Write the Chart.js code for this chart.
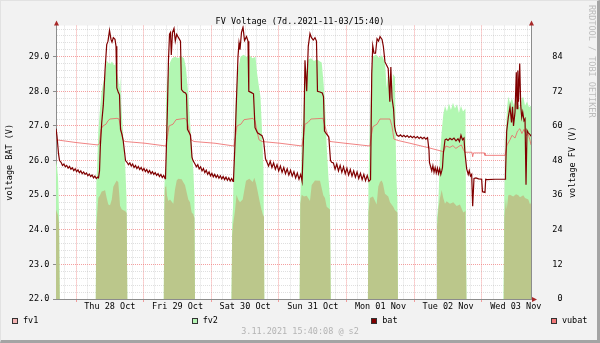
<!DOCTYPE html>
<html>
<head>
<meta charset="utf-8">
<title>FV Voltage</title>
<script src="https://cdn.jsdelivr.net/npm/chart.js@4.4.1/dist/chart.umd.min.js"></script>
<style>
  html, body { margin: 0; padding: 0; background: #f2f2f2; }
  #graph { position: relative; width: 600px; height: 343px; overflow: hidden;
           font-family: 'DejaVu Sans Mono', monospace; font-size: 8.5px; color: #000; }
  #graph canvas { position: absolute; left: 0; top: 0; }
  #frame { position: absolute; left: 0; top: 0; width: 600px; height: 343px; box-sizing: border-box;
           border-style: solid; border-width: 1px 3px 3px 1px;
           border-color: #e2e2e2 #a4a4a4 #a4a4a4 #e2e2e2; pointer-events: none; }
  #legend { position: absolute; left: 12px; top: 316px; width: 575.5px;
            display: flex; justify-content: space-between; }
  .item { display: flex; align-items: center; white-space: nowrap; line-height: 9px; }
  .box { width: 4px; height: 4px; border: 1px solid #333; margin-right: 5px; }
</style>
</head>
<body>
<div id="graph">
  <canvas id="fvChart" width="600" height="343"></canvas>
  <div id="legend"></div>
  <div id="frame"></div>
</div>
<script>
// x values are hours counted from Thu 28 Oct 00:00
const dayLabels = ['Thu 28 Oct', 'Fri 29 Oct', 'Sat 30 Oct', 'Sun 31 Oct', 'Mon 01 Nov', 'Tue 02 Nov', 'Wed 03 Nov'];
const batTicks = [22, 23, 24, 25, 26, 27, 28, 29];
const fvTicks = [0, 12, 24, 36, 48, 60, 72, 84];

// panel power, fv1 (V)
const fv1 = [
  [-7.09, 31], [-6.74, 30], [-6.38, 29], [-6.03, 26], [-5.78, 0],
  [7.02, 0], [7.2, 25], [7.45, 29], [7.91, 35], [8.51, 36], [9.1, 37.3], [9.93, 37.5], [10.29, 37.8], [10.89, 35],
  [11.46, 32.8], [12.06, 32.5], [12.66, 34.4], [13.23, 38.9], [13.83, 40], [14.44, 41.1], [15.0, 40.5], [15.36, 36],
  [15.61, 32.3], [16.21, 31.1], [16.78, 30.8], [17.38, 30.5], [17.98, 29.8], [18.2, 0],
  [31.14, 0], [31.32, 30], [31.57, 38.9], [31.92, 40], [32.27, 36], [32.74, 34], [33.34, 34.5], [34.52, 33],
  [35.11, 38], [35.72, 41.1], [36.28, 41.7], [37.49, 41.5], [38.06, 40.5], [38.66, 39.5], [39.83, 34.5],
  [40.43, 33.5], [41.04, 30], [41.6, 29.4], [42.02, 28], [42.2, 0],
  [55.17, 0], [55.39, 22], [55.74, 26], [56.4, 30.5], [56.93, 36.1], [57.57, 34.4], [58.17, 33.5], [59.13, 34.5],
  [60.3, 41], [61.47, 41.7], [62.68, 40.6], [63.25, 42], [63.85, 40], [64.45, 37.3], [65.02, 34.4], [65.62, 31.7],
  [66.22, 29.4], [66.68, 28.5], [66.79, 0],
  [79.35, 0], [79.56, 33], [80.06, 36.1], [80.87, 35.5], [81.83, 35.8], [83.0, 34], [83.6, 39.5], [84.77, 41.1],
  [86.55, 41], [87.72, 36], [88.31, 35], [88.92, 32], [90.09, 31], [90.34, 0],
  [103.55, 0], [103.73, 30], [104.27, 35], [105.34, 35.5], [106.65, 32.8], [107.22, 38.9], [107.82, 40.6],
  [108.42, 41.1], [108.88, 40], [109.6, 36.5], [110.77, 35.5], [111.37, 33.5], [112.54, 32], [113.14, 30.8],
  [114.02, 30], [114.2, 0],
  [127.87, 0], [128.05, 25], [128.52, 31], [129.11, 35], [129.72, 37.8], [130.28, 35], [130.89, 33], [131.47, 33.9],
  [132.66, 33], [133.83, 33.5], [135.03, 32.2], [136.2, 32.8], [137.37, 30], [138.15, 30.5], [138.5, 0],
  [151.75, 0], [151.93, 28], [152.53, 35], [152.78, 31], [153.35, 36], [153.95, 36.1], [155.12, 35.5], [156.08, 36.3],
  [156.9, 36], [157.5, 35.3], [158.66, 36], [159.28, 35], [160.45, 34.5], [161.06, 32.8], [161.41, 33.5]
];

// panel power, fv2 (V)
const fv2 = [
  [-7.09, 48], [-6.74, 46], [-6.38, 42], [-6.03, 30], [-5.78, 0],
  [7.02, 0], [7.2, 40], [7.45, 45], [7.91, 58], [8.51, 66], [9.1, 72], [9.68, 75], [10.29, 78], [10.89, 82.7],
  [11.35, 82], [12.06, 81.5], [12.77, 82.3], [13.48, 81], [14.01, 81.5], [14.44, 79], [15.0, 76], [15.43, 73],
  [15.72, 77], [15.96, 68], [16.21, 64.7], [16.78, 56], [17.38, 48], [17.91, 35], [18.2, 0],
  [31.14, 0], [31.32, 38], [31.57, 45], [31.92, 68], [32.27, 75], [32.8, 79], [33.34, 82], [34.05, 83.5],
  [35.11, 84], [36.18, 83.5], [37.24, 84.2], [38.31, 83.5], [39.02, 80], [39.37, 76], [39.9, 70], [40.43, 62],
  [41.04, 52], [41.6, 45], [42.02, 35], [42.2, 0],
  [55.17, 0], [55.39, 26], [55.7, 32], [56.22, 55], [56.58, 67], [57.29, 78], [57.82, 81], [58.35, 84], [59.42, 84.7],
  [60.48, 84], [61.54, 84.5], [62.61, 83.5], [63.67, 84], [64.27, 78], [64.84, 74], [65.44, 70], [66.04, 57],
  [66.5, 45], [66.79, 0],
  [79.35, 0], [79.56, 35], [80.16, 55], [80.87, 70], [81.58, 78], [82.39, 83], [83.35, 83.5], [84.41, 82.5],
  [85.48, 83], [86.55, 82.3], [87.15, 82], [87.72, 76], [88.31, 68], [88.92, 53], [89.56, 42], [90.09, 35], [90.34, 0],
  [103.55, 0], [103.73, 40], [104.27, 62], [104.8, 78], [105.34, 84], [106.4, 84.8], [107.47, 83.6], [108.53, 84.5],
  [109.6, 82], [110.2, 73], [110.77, 79], [111.37, 76], [111.97, 70], [112.43, 78], [113.14, 77], [113.49, 50],
  [113.74, 40], [114.0, 35], [114.2, 0],
  [127.87, 0], [128.05, 28], [128.52, 33], [129.11, 50], [129.72, 58], [130.28, 64], [130.89, 67], [131.6, 65],
  [132.3, 67.8], [133.0, 65.5], [133.72, 68], [134.43, 66], [135.14, 67.5], [135.85, 64.5], [136.56, 67],
  [137.27, 65], [138.15, 66], [138.5, 0],
  [151.64, 0], [151.93, 35], [152.36, 55], [152.88, 66], [153.35, 70.2], [153.95, 68], [154.66, 69.5], [155.37, 67],
  [156.08, 69.3], [156.79, 67.5], [157.5, 66.3], [158.2, 69.7], [158.66, 70], [159.28, 67], [159.99, 68.5],
  [160.7, 66.5], [161.41, 67]
];

// battery voltage (V)
const bat = [
  [-7.09, 26.92], [-6.74, 26.7], [-6.21, 26.2], [-5.85, 26.0], [-5.3, 25.95], [-4.8, 25.86], [-4.3, 25.9],
  [-3.8, 25.82], [-3.3, 25.86], [-2.8, 25.78], [-2.3, 25.83], [-1.8, 25.75], [-1.3, 25.79], [-0.8, 25.71],
  [-0.3, 25.76], [0.2, 25.68], [0.7, 25.73], [1.2, 25.65], [1.7, 25.7], [2.2, 25.62], [2.7, 25.67], [3.2, 25.6],
  [3.7, 25.64], [4.2, 25.56], [4.7, 25.61], [5.2, 25.54], [5.7, 25.58], [6.2, 25.5], [6.7, 25.55], [7.2, 25.48],
  [7.7, 25.52],
  [7.98, 25.5], [8.34, 25.7], [8.62, 26.4], [9.12, 27.1], [9.68, 27.6], [10.29, 28.6], [10.89, 29.35], [11.35, 29.45],
  [11.88, 29.76], [12.41, 29.5], [12.77, 29.42], [13.23, 29.55], [13.83, 29.5], [14.19, 29.3], [14.47, 28.1],
  [15.0, 27.97], [15.43, 27.9], [15.78, 26.9], [16.32, 26.75], [16.78, 26.55], [17.56, 26.0], [18.09, 25.95],
  [18.6, 25.88], [19.1, 25.93], [19.6, 25.84], [20.1, 25.9], [20.6, 25.8], [21.1, 25.86], [21.6, 25.77],
  [22.1, 25.83], [22.6, 25.74], [23.1, 25.8], [23.6, 25.71], [24.1, 25.77], [24.6, 25.68], [25.1, 25.74],
  [25.6, 25.65], [26.1, 25.71], [26.6, 25.62], [27.1, 25.68], [27.6, 25.6], [28.1, 25.65], [28.6, 25.57],
  [29.1, 25.62], [29.6, 25.54], [30.1, 25.6], [30.6, 25.51], [31.1, 25.57], [31.6, 25.48],
  [31.75, 25.5], [32.1, 26.5], [32.45, 27.6], [32.8, 28.9], [33.17, 29.65], [33.52, 29.7], [33.8, 29.05],
  [34.23, 29.7], [34.76, 29.82], [35.22, 29.45], [35.72, 29.65], [36.35, 29.55], [37.06, 29.45], [37.42, 28.05],
  [38.13, 27.98], [38.84, 27.95], [39.19, 27.9], [39.54, 26.9], [40.08, 26.82], [40.61, 26.73], [41.14, 26.1],
  [41.5, 26.0], [42.2, 25.9],
  [42.7, 25.82], [43.2, 25.88], [43.7, 25.76], [44.2, 25.82], [44.7, 25.7], [45.2, 25.77], [45.7, 25.65],
  [46.2, 25.72], [46.7, 25.6], [47.2, 25.67], [47.7, 25.56], [48.2, 25.63], [48.7, 25.53], [49.2, 25.6],
  [49.7, 25.51], [50.2, 25.58], [50.7, 25.49], [51.2, 25.56], [51.7, 25.47], [52.2, 25.54], [52.7, 25.45],
  [53.2, 25.52], [53.7, 25.43], [54.2, 25.5], [54.7, 25.41], [55.2, 25.48], [55.7, 25.4],
  [55.87, 25.45], [56.4, 26.5], [56.93, 27.8], [57.46, 29.0], [57.82, 29.4], [58.17, 29.2], [58.7, 29.7],
  [59.24, 29.85], [59.77, 29.47], [60.48, 29.58], [61.01, 29.45], [61.29, 28.0], [62.08, 27.97], [62.96, 27.93],
  [63.5, 26.95], [64.38, 26.8], [65.98, 26.72], [66.51, 26.6], [67.22, 26.05], [67.75, 25.95],
  [68.3, 25.84], [68.9, 25.98], [69.5, 25.8], [70.1, 25.93], [70.7, 25.75], [71.3, 25.88], [71.9, 25.7],
  [72.5, 25.84], [73.1, 25.66], [73.7, 25.8], [74.3, 25.62], [74.9, 25.76], [75.5, 25.58], [76.1, 25.72],
  [76.7, 25.55], [77.3, 25.68], [77.9, 25.5], [78.5, 25.64], [79.1, 25.46], [79.7, 25.6], [80.2, 25.4],
  [80.41, 25.4], [80.87, 27.06], [81.22, 28.9], [81.83, 28.0], [82.39, 29.3], [83.0, 29.67], [83.53, 29.55],
  [84.17, 29.48], [84.77, 29.55], [85.3, 29.45], [85.66, 28.0], [86.55, 27.98], [87.36, 27.95], [87.79, 27.85],
  [88.14, 26.85], [89.03, 26.75], [89.67, 26.68], [90.27, 26.0], [90.7, 25.95],
  [91.3, 25.93], [91.9, 25.75], [92.5, 25.9], [93.1, 25.7], [93.7, 25.86], [94.3, 25.66], [94.9, 25.82],
  [95.5, 25.62], [96.1, 25.78], [96.7, 25.58], [97.3, 25.74], [97.9, 25.55], [98.5, 25.7], [99.1, 25.52],
  [99.7, 25.67], [100.3, 25.48], [100.9, 25.63], [101.5, 25.45], [102.1, 25.6], [102.7, 25.42], [103.3, 25.57],
  [103.9, 25.4],
  [104.48, 25.45], [104.91, 28.5], [105.26, 29.32], [105.72, 29.1], [106.25, 29.1], [106.79, 29.52],
  [107.32, 29.45], [107.85, 29.58], [108.56, 29.5], [109.02, 29.3], [109.6, 28.85], [110.75, 28.66],
  [111.32, 27.7], [111.68, 28.7], [112.1, 27.8], [112.63, 27.5], [112.99, 27.0], [113.34, 26.85], [113.87, 26.73],
  [114.5, 26.7], [115.1, 26.74], [115.7, 26.69], [116.3, 26.73], [116.9, 26.68], [117.5, 26.72], [118.1, 26.67],
  [118.7, 26.71], [119.3, 26.66], [119.9, 26.7], [120.5, 26.65], [121.1, 26.69], [121.7, 26.64], [122.3, 26.68],
  [122.9, 26.63], [123.5, 26.67], [124.1, 26.62], [124.7, 26.66], [125.21, 26.3], [125.39, 25.94],
  [125.8, 25.82], [126.2, 25.7], [126.6, 25.85], [127.0, 25.66], [127.4, 25.8], [127.8, 25.64], [128.2, 25.78],
  [128.6, 25.62], [129.0, 25.76], [129.4, 25.6], [129.8, 25.72],
  [130.0, 25.8], [130.3, 26.2], [130.9, 26.6], [131.4, 26.62], [131.95, 26.58], [132.66, 26.64], [133.37, 26.6],
  [134.08, 26.65], [134.79, 26.57], [135.5, 26.63], [136.03, 26.55], [136.56, 26.73], [137.09, 26.6],
  [137.62, 26.65], [137.98, 26.22], [138.58, 25.76], [139.14, 25.6], [139.5, 25.71], [139.93, 25.55],
  [140.36, 25.6], [140.71, 24.68], [141.17, 25.48], [141.88, 25.5], [142.77, 25.47], [143.9, 25.46],
  [144.19, 25.1], [145.08, 25.08], [145.33, 25.46], [145.79, 25.45], [148.63, 25.46], [152.18, 25.46],
  [152.36, 25.6], [152.78, 26.85], [153.35, 27.25], [153.95, 27.55], [154.48, 27.1], [154.84, 27.55],
  [155.19, 27.0], [155.73, 27.4], [156.19, 28.55], [156.44, 27.5], [156.73, 28.6], [156.97, 27.7], [157.4, 28.8],
  [157.75, 27.6], [158.11, 27.25], [158.46, 27.4], [158.92, 27.15], [159.28, 27.2], [159.63, 25.3],
  [159.99, 26.87], [160.45, 26.8], [161.06, 26.75], [161.41, 26.7]
];

// charger reference voltage, vubat (V)
const vubat = [
  [-7.09, 26.6], [0, 26.52], [7.8, 26.45], [8.34, 26.5], [8.87, 26.9], [9.58, 27.0], [10.64, 27.05], [11.35, 27.15],
  [12.06, 27.2], [14.54, 27.22], [15.25, 27.2], [15.96, 26.9], [16.67, 26.6], [17.38, 26.55], [24.47, 26.5],
  [31.92, 26.42], [32.45, 26.7], [32.99, 27.0], [34.41, 27.05], [35.47, 27.18], [38.66, 27.22], [39.37, 27.15],
  [40.08, 26.9], [40.79, 26.6], [41.86, 26.55], [49.3, 26.5], [56.04, 26.42], [56.58, 26.7], [57.1, 27.0],
  [58.5, 27.05], [59.59, 27.18], [62.78, 27.22], [63.5, 27.15], [64.2, 26.85], [64.91, 26.6], [65.98, 26.55],
  [72.36, 26.5], [80.16, 26.42], [80.7, 26.7], [81.22, 27.05], [82.29, 27.1], [83.35, 27.2], [87.6, 27.22],
  [88.31, 27.0], [89.03, 26.8], [90.1, 26.55], [95.42, 26.5], [104.27, 26.42], [104.8, 26.75], [105.34, 26.98],
  [106.76, 27.05], [107.82, 27.2], [111.37, 27.2], [112.07, 27.0], [112.78, 26.62], [114.2, 26.58], [118.46, 26.5],
  [122.0, 26.43], [125.56, 26.36], [129.7, 26.27], [130.27, 26.25], [131.2, 26.42], [132.6, 26.38], [133.7, 26.43],
  [134.76, 26.35], [135.8, 26.41], [136.7, 26.45], [137.4, 26.32], [137.98, 26.24], [140.47, 26.24],
  [140.71, 26.11], [140.99, 26.22], [144.9, 26.22], [145.08, 26.15], [152.18, 26.15], [152.9, 26.45],
  [153.95, 26.6], [154.66, 26.73], [155.73, 26.65], [156.6, 26.85], [157.47, 26.92], [158.18, 26.78],
  [158.9, 26.9], [159.8, 26.72], [160.3, 26.78], [161.0, 26.6], [161.41, 26.45]
];

const mono = "'DejaVu Sans Mono', monospace";
Chart.defaults.font.family = mono;
Chart.defaults.font.size = 8.5;
Chart.defaults.font.lineHeight = 1;
Chart.defaults.color = '#000';

const majorGrid = 'rgba(240,120,120,0.7)';
const minorGrid = 'rgba(150,150,150,0.3)';
const axisColor = '#8c8c8c';
const isMajorV = v => batTicks.some(t => Math.abs(t - v) < 1e-6);

// grey frame background, white canvas, axis arrows and the rotated side texts
const rrdDecor = {
  id: 'rrdDecor',
  beforeDraw(chart) {
    const { ctx, chartArea: a } = chart;
    ctx.save();
    ctx.fillStyle = '#f2f2f2';
    ctx.fillRect(0, 0, chart.width, chart.height);
    ctx.fillStyle = '#ffffff';
    ctx.fillRect(a.left, a.top, a.right - a.left, a.bottom - a.top);
    ctx.restore();
  },
  afterDraw(chart) {
    const { ctx, chartArea: a } = chart;
    ctx.save();
    ctx.fillStyle = '#a82828';
    [a.left, a.right].forEach(x => {
      ctx.beginPath();
      ctx.moveTo(x + 0.5, a.top - 5);
      ctx.lineTo(x + 3, a.top);
      ctx.lineTo(x - 2, a.top);
      ctx.closePath();
      ctx.fill();
    });
    ctx.beginPath();
    ctx.moveTo(a.right + 6, a.bottom + 0.5);
    ctx.lineTo(a.right + 1, a.bottom - 2);
    ctx.lineTo(a.right + 1, a.bottom + 3);
    ctx.closePath();
    ctx.fill();

    ctx.font = '8.5px ' + mono;
    ctx.textBaseline = 'middle';
    ctx.fillStyle = '#000';
    ctx.translate(a.right + 42, (a.top + a.bottom) / 2);
    ctx.rotate(-Math.PI / 2);
    ctx.textAlign = 'center';
    ctx.fillText('voltage FV (V)', 0, 0);
    ctx.setTransform(1, 0, 0, 1, 0, 0);

    ctx.fillStyle = '#bcbcbc';
    ctx.translate(chart.width - 9, 5);
    ctx.rotate(Math.PI / 2);
    ctx.textAlign = 'left';
    ctx.fillText('RRDTOOL / TOBI OETIKER', 0, 0);
    ctx.restore();
  }
};

const chart = new Chart(document.getElementById('fvChart'), {
  type: 'line',
  data: {
    datasets: [
      { label: 'fv1', data: fv1, yAxisID: 'y2', fill: 'origin', backgroundColor: 'rgb(187,199,139)',
        borderColor: 'rgba(0,0,0,0)', borderWidth: 0, pointRadius: 0, order: 3, legendColor: '#f4b4b4' },
      { label: 'fv2', data: fv2, yAxisID: 'y2', fill: 'origin', backgroundColor: 'rgb(178,247,178)',
        borderColor: 'rgba(0,0,0,0)', borderWidth: 0, pointRadius: 0, order: 4, legendColor: '#b4f4b4' },
      { label: 'bat', data: bat, yAxisID: 'y', fill: false, borderColor: '#800000',
        borderWidth: 1.2, pointRadius: 0, order: 1, legendColor: '#800000' },
      { label: 'vubat', data: vubat, yAxisID: 'y', fill: false, borderColor: 'rgba(236,100,100,0.8)',
        borderWidth: 1, pointRadius: 0, order: 2, legendColor: '#f07878' }
    ]
  },
  options: {
    responsive: false,
    animation: false,
    events: [],
    layout: { padding: 0 },
    plugins: {
      legend: { display: false },
      tooltip: { enabled: false },
      title: {
        display: true,
        text: 'FV Voltage (7d..2021-11-03/15:40)',
        padding: { top: 9, bottom: -0.5 },
        font: { size: 8.5, weight: 'normal' }
      },
      subtitle: {
        display: true,
        position: 'bottom',
        text: '3.11.2021 15:40:08 @ s2',
        color: '#b4b4b4',
        padding: { top: 8.75, bottom: 6.75 },
        font: { size: 8.5, weight: 'normal' }
      }
    },
    scales: {
      x: {
        type: 'linear',
        min: -7.1,
        max: 161.4,
        z: 1,
        afterBuildTicks: s => {
          s.ticks = [];
          for (let h = -4; h <= 160; h += 4) s.ticks.push({ value: h });
        },
        afterFit: s => { s.height = 20; },
        ticks: {
          autoSkip: false,
          maxRotation: 0,
          padding: 1,
          callback: v => ((v - 12) % 24 === 0 ? dayLabels[(v - 12) / 24] : '')
        },
        grid: {
          color: c => (c.tick && c.tick.value % 24 === 0 ? majorGrid : minorGrid),
          tickLength: 3,
          tickColor: c => (c.tick && c.tick.value % 24 === 0 ? majorGrid : 'rgba(0,0,0,0)')
        },
        border: { color: axisColor, dash: [1, 1] }
      },
      y: {
        position: 'left',
        min: 22,
        max: 29.9,
        z: 1,
        afterBuildTicks: s => {
          s.ticks = [];
          for (let i = 0; i <= 39; i++) s.ticks.push({ value: Math.round((22 + i * 0.2) * 10) / 10 });
        },
        afterFit: s => { s.width = 56; },
        ticks: {
          autoSkip: false,
          padding: 3.7,
          callback: v => (isMajorV(v) ? v.toFixed(1) : '')
        },
        grid: {
          color: c => (c.tick && isMajorV(c.tick.value) ? majorGrid : minorGrid),
          tickLength: 3,
          tickColor: c => (c.tick && isMajorV(c.tick.value) ? axisColor : 'rgba(0,0,0,0)')
        },
        border: { color: axisColor, dash: [1, 1] },
        title: {
          display: true,
          text: 'voltage BAT (V)',
          padding: { top: 5.75, bottom: 0 },
          font: { size: 8.5 }
        }
      },
      y2: {
        position: 'right',
        min: 0,
        max: 94.8,
        afterBuildTicks: s => { s.ticks = fvTicks.map(v => ({ value: v })); },
        afterFit: s => { s.width = 69; },
        ticks: {
          autoSkip: false,
          padding: 21.3,
          crossAlign: 'near',
          callback: v => String(v).padStart(2, ' ')
        },
        grid: { display: false, drawTicks: false },
        border: { color: axisColor }
      }
    }
  },
  plugins: [rrdDecor]
});

// legend row, spread over the full width
const legend = document.getElementById('legend');
chart.data.datasets.forEach(ds => {
  const item = document.createElement('div');
  item.className = 'item';
  item.innerHTML = `<span class="box" style="background:${ds.legendColor}"></span><span>${ds.label}</span>`;
  legend.appendChild(item);
});
</script>
</body>
</html>
